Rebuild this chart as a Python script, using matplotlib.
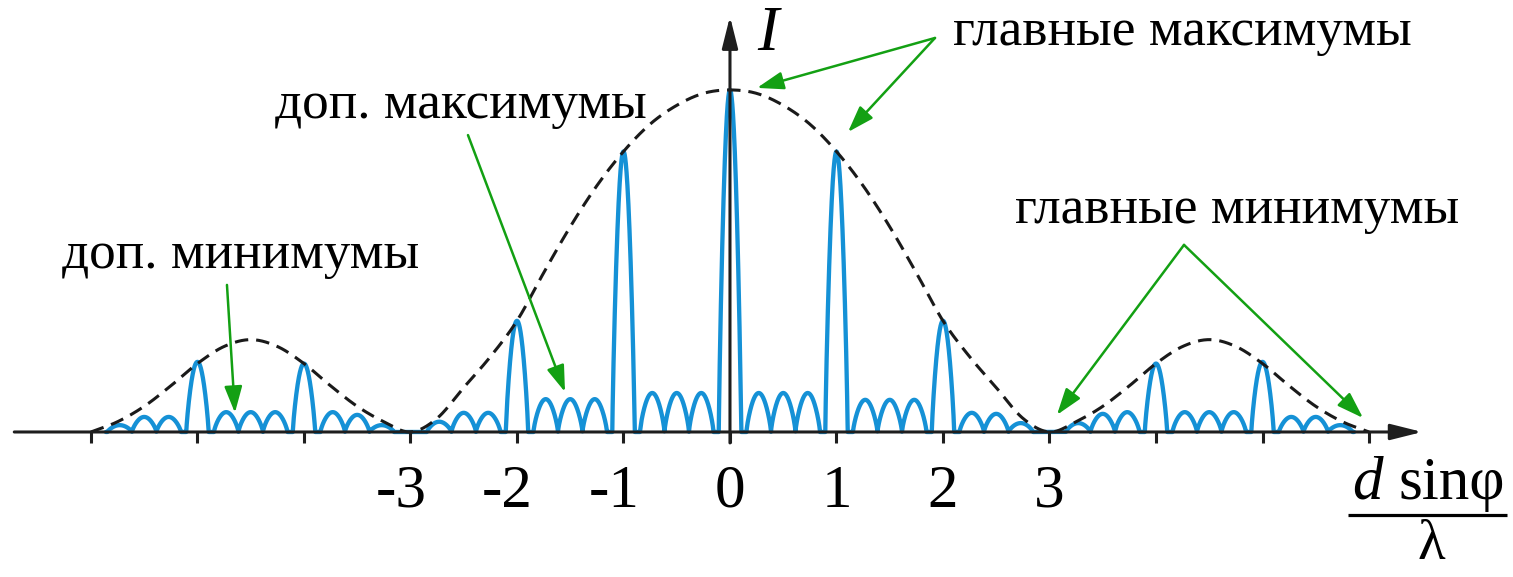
import numpy as np
import matplotlib
matplotlib.use("Agg")
import matplotlib.pyplot as plt

plt.rcParams["font.family"] = ["Liberation Serif", "DejaVu Serif"]

# principal maxima: order m and intensity (relative to the central one)
orders = [-5, -4, -2, -1, 0, 1, 2, 4, 5]
order_I = [0.205, 0.20, 0.325, 0.82, 1.0, 0.82, 0.325, 0.20, 0.205]

# secondary maxima: three between each pair of neighbouring orders
sub_start = [-6, -5, -4, -3, -2, -1, 0, 1, 2, 3, 4, 5]
sub_offset = [0.27, 0.50, 0.73]
sub_I = [
    [0.020, 0.044, 0.044],
    [0.058, 0.058, 0.058],
    [0.058, 0.050, 0.020],
    [0.030, 0.056, 0.056],
    [0.096, 0.096, 0.096],
    [0.114, 0.114, 0.114],
    [0.114, 0.114, 0.114],
    [0.094, 0.094, 0.094],
    [0.056, 0.053, 0.026],
    [0.026, 0.053, 0.058],
    [0.058, 0.058, 0.058],
    [0.044, 0.044, 0.020],
]

# single-slit envelope
env_x = np.arange(-6.0, 6.25, 0.25)
env_I = [0.0, 0.03, 0.075, 0.135, 0.20, 0.25, 0.27, 0.25, 0.20, 0.135, 0.075, 0.03,
         0.0, 0.04, 0.13, 0.22, 0.325, 0.465, 0.60, 0.72, 0.82, 0.90, 0.955, 0.99,
         1.0,
         0.99, 0.955, 0.90, 0.82, 0.72, 0.60, 0.465, 0.325, 0.22, 0.13, 0.04, 0.0,
         0.03, 0.075, 0.135, 0.20, 0.25, 0.27, 0.25, 0.20, 0.135, 0.075, 0.03, 0.0]

tick_pos = [-6, -5, -4, -3, -2, -1, 0, 1, 2, 3, 4, 5, 6]
label_pos = [-3, -2, -1, 0, 1, 2, 3]
label_txt = ["-3", "-2", "-1", "0", "1", "2", "3"]

BLUE = "#1591d6"
GREEN = "#13a013"
AX = "#1e1e1e"


def smooth_curve(xk, yk, n=30):
    """Cubic Hermite (Catmull-Rom) curve through the given points."""
    xk = np.asarray(xk, float)
    yk = np.asarray(yk, float)
    m = np.empty_like(yk)
    m[1:-1] = (yk[2:] - yk[:-2]) / (xk[2:] - xk[:-2])
    m[0] = (yk[1] - yk[0]) / (xk[1] - xk[0])
    m[-1] = (yk[-1] - yk[-2]) / (xk[-1] - xk[-2])
    xs, ys = [], []
    for i in range(len(xk) - 1):
        h = xk[i + 1] - xk[i]
        t = np.linspace(0, 1, n, endpoint=False)
        h00 = 2 * t**3 - 3 * t**2 + 1
        h10 = t**3 - 2 * t**2 + t
        h01 = -2 * t**3 + 3 * t**2
        h11 = t**3 - t**2
        xs.append(xk[i] + t * h)
        ys.append(h00 * yk[i] + h10 * h * m[i] + h01 * yk[i + 1] + h11 * h * m[i + 1])
    xs.append([xk[-1]])
    ys.append([yk[-1]])
    return np.concatenate(xs), np.clip(np.concatenate(ys), 0, None)


# intensity curve assembled from the individual lobes
x = np.linspace(-5.86, 5.86, 14001)
y = np.zeros_like(x)


def add_lobe(c, h, hw, p):
    sel = np.abs(x - c) < hw
    shape = np.cos(np.pi * (x[sel] - c) / (2 * hw)) ** p
    y[sel] = np.maximum(y[sel], h * shape)


for m, h in zip(orders, order_I):
    add_lobe(m, h, 0.105, 0.8)
for s, hs in zip(sub_start, sub_I):
    for off, h in zip(sub_offset, hs):
        add_lobe(s + off, h, 0.115, 0.75)

fig = plt.figure(figsize=(15.13, 5.77), dpi=100)
ax = fig.add_axes([0, 0, 1, 1])
ax.set_xlim(-6.854, 7.352)
ax.set_ylim(-0.424, 1.263)
ax.axis("off")

ax.plot(x, y, color=BLUE, lw=3.1, zorder=2, solid_capstyle="round",
        solid_joinstyle="round")
ex, ey = smooth_curve(env_x, env_I)
ax.plot(ex, ey, color="#1a1a1a", lw=2.2, dashes=(4.4, 2.6), zorder=3)

# axes with arrows
axis_kw = dict(arrowstyle="-|>,head_length=1.6,head_width=0.4", color=AX,
               lw=2.2, shrinkA=0, shrinkB=0, mutation_scale=12)
ax.annotate("", xy=(6.50, 0), xytext=(-6.72, 0), arrowprops=axis_kw, zorder=4)
ax.annotate("", xy=(0, 1.215), xytext=(0, -0.032), arrowprops=axis_kw, zorder=4)
ax.vlines(tick_pos, -0.032, 0, color=AX, lw=2.2, zorder=4)

# tick labels: digits centred under the ticks
for p, t in zip(label_pos, label_txt):
    if t.startswith("-"):
        ax.text(p + 0.15, -0.219, t, ha="right", va="baseline", fontsize=44)
    else:
        ax.text(p, -0.219, t, ha="center", va="baseline", fontsize=44)

# axis titles
ax.text(0.36, 1.117, "I", ha="center", va="baseline", fontsize=46, style="italic")
ax.text(5.84, -0.195, "d", ha="left", va="baseline", fontsize=44, style="italic")
ax.text(6.28, -0.195, "sinφ", ha="left", va="baseline", fontsize=44)
ax.plot([5.803, 7.296], [-0.243, -0.243], color="black", lw=2.3,
        solid_capstyle="butt")
ax.text(6.582, -0.37, "λ", ha="center", va="baseline", fontsize=41)

# annotations
FS = 38.3
ax.text(4.244, 1.13, "главные максимумы", ha="center", va="baseline", fontsize=FS)
ax.text(-2.526, 0.918, "доп. максимумы", ha="center", va="baseline", fontsize=FS)
ax.text(-4.592, 0.48, "доп. минимумы", ha="center", va="baseline", fontsize=FS)
ax.text(4.761, 0.611, "главные минимумы", ha="center", va="baseline", fontsize=FS)

arrow_kw = dict(arrowstyle="-|>,head_length=0.95,head_width=0.32", color=GREEN,
                lw=1.8, shrinkA=0, shrinkB=0, mutation_scale=17)
arrows = [
    ((1.925, 1.152), (0.254, 1.006)),
    ((1.925, 1.152), (1.108, 0.877)),
    ((-2.46, 0.868), (-1.549, 0.117)),
    ((-4.723, 0.43), (-4.648, 0.056)),
    ((4.263, 0.547), (3.07, 0.05)),
    ((4.263, 0.547), (5.944, 0.041)),
]
for start, tip in arrows:
    ax.annotate("", xy=tip, xytext=start, arrowprops=arrow_kw, zorder=5)

fig.savefig("out.png", dpi=100, facecolor="white")
